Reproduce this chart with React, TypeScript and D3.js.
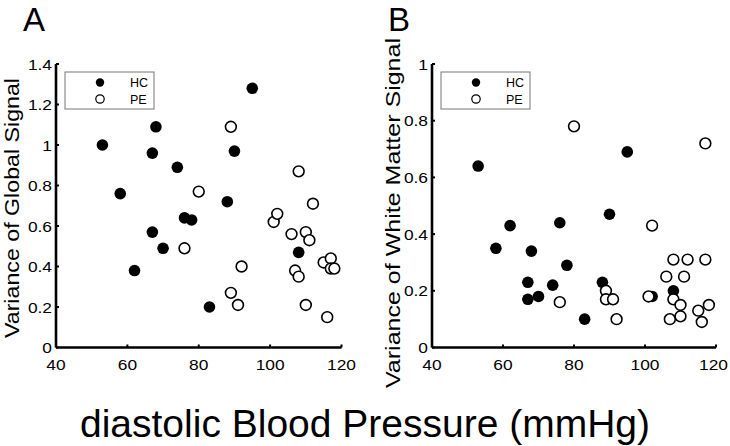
import React from "react";
import * as d3 from "d3";

// Panel A: Variance of Global Signal
const hcA_x = [53, 58, 62, 67, 67, 68, 70, 74, 76, 78, 83, 88, 90, 95, 108];
const hcA_y = [1.0, 0.76, 0.38, 0.96, 0.57, 1.09, 0.49, 0.89, 0.64, 0.63, 0.2, 0.72, 0.97, 1.28, 0.47];
const peA_x = [76, 80, 89, 89, 91, 92, 101, 102, 106, 107, 108, 108, 110, 110, 111, 112, 115, 116, 117, 117, 118];
const peA_y = [0.49, 0.77, 1.09, 0.27, 0.21, 0.4, 0.62, 0.66, 0.56, 0.38, 0.87, 0.35, 0.57, 0.21, 0.53, 0.71, 0.42, 0.15, 0.44, 0.39, 0.39];

// Panel B: Variance of White Matter Signal
const hcB_x = [53, 58, 62, 67, 67, 68, 70, 74, 76, 78, 83, 88, 90, 95, 102, 108];
const hcB_y = [0.64, 0.35, 0.43, 0.23, 0.17, 0.34, 0.18, 0.22, 0.44, 0.29, 0.1, 0.23, 0.47, 0.69, 0.18, 0.2];
const peB_x = [76, 80, 89, 89, 91, 92, 101, 102, 106, 107, 108, 108, 110, 110, 111, 112, 115, 116, 117, 117, 118];
const peB_y = [0.16, 0.78, 0.2, 0.17, 0.17, 0.1, 0.18, 0.43, 0.25, 0.1, 0.17, 0.31, 0.15, 0.11, 0.25, 0.31, 0.13, 0.09, 0.72, 0.31, 0.15];

const xTicks = [40, 60, 80, 100, 120];
const yTicksA = [0, 0.2, 0.4, 0.6, 0.8, 1, 1.2, 1.4];
const yTicksB = [0, 0.2, 0.4, 0.6, 0.8, 1];
const groups = ["HC", "PE"];

const FONT = "Arial, 'Liberation Sans', sans-serif";
const TICK_FS = 15.5;
const TICK_SX = 1.12;

type PanelProps = {
  letter: string;
  yLabel: string;
  x0: number;
  x1: number;
  yMax: number;
  yTicks: number[];
  hcX: number[];
  hcY: number[];
  peX: number[];
  peY: number[];
  labelX: number;
  labelY: number;
  labelLen: number;
  letterX: number;
};

function Panel(p: PanelProps) {
  const top = 64;
  const bottom = 347.5;
  const x = d3.scaleLinear().domain([40, 120]).range([p.x0, p.x1]);
  const y = d3.scaleLinear().domain([0, p.yMax]).range([bottom, top]);
  const fmt = (v: number) => String(+v.toFixed(1));
  const r = 5.8;
  const legX = p.x0 + 9;
  return (
    <g>
      <text x={p.letterX} y={31} fontSize={33} fontFamily={FONT}>{p.letter}</text>
      <text
        transform={`translate(${p.labelX},${p.labelY}) rotate(-90)`}
        textAnchor="middle"
        fontSize={21}
        fontFamily={FONT}
        textLength={p.labelLen}
        lengthAdjust="spacingAndGlyphs"
      >
        {p.yLabel}
      </text>
      {/* HC points first, PE on top */}
      {p.hcX.map((v, i) => (
        <circle key={"h" + i} cx={x(v)} cy={y(p.hcY[i])} r={r} fill="#000" />
      ))}
      {p.peX.map((v, i) => (
        <circle key={"p" + i} cx={x(v)} cy={y(p.peY[i])} r={r - 0.4} fill="#fff" stroke="#000" strokeWidth={1.6} />
      ))}
      {/* axes */}
      <line x1={p.x0} x2={p.x0} y1={top} y2={bottom} stroke="#000" strokeWidth={2.6} />
      <line x1={p.x0} x2={p.x1} y1={bottom} y2={bottom} stroke="#000" strokeWidth={2.6} />
      {p.yTicks.map((t) => (
        <g key={"yt" + t}>
          <line x1={p.x0} x2={p.x0 + 3} y1={y(t)} y2={y(t)} stroke="#000" strokeWidth={2} />
          <text
            transform={`translate(${p.x0 - 4},${y(t) + 5.5}) scale(${TICK_SX},1)`}
            textAnchor="end"
            fontSize={TICK_FS}
            fontFamily={FONT}
          >
            {fmt(t)}
          </text>
        </g>
      ))}
      {xTicks.map((t) => {
        const half = (String(t).length * 0.556 * TICK_FS * TICK_SX) / 2;
        const cx = Math.min(x(t), 728 - half);
        return (
          <g key={"xt" + t}>
            <line x1={x(t)} x2={x(t)} y1={bottom} y2={bottom - 3} stroke="#000" strokeWidth={2} />
            <text
              transform={`translate(${cx},${369.5}) scale(${TICK_SX},1)`}
              textAnchor="middle"
              fontSize={TICK_FS}
              fontFamily={FONT}
            >
              {t}
            </text>
          </g>
        );
      })}
      {/* legend */}
      <rect x={legX} y={72} width={89} height={37} fill="#fff" stroke="#777" strokeWidth={1} />
      {groups.map((g, i) => (
        <g key={g}>
          <circle
            cx={legX + 35}
            cy={82.5 + i * 16.5}
            r={4.2}
            fill={i === 0 ? "#000" : "#fff"}
            stroke="#000"
            strokeWidth={i === 0 ? 0 : 1.2}
          />
          <text x={legX + 65} y={82.5 + i * 16.5 + 4.5} fontSize={12.5} fontFamily={FONT}>{g}</text>
        </g>
      ))}
    </g>
  );
}

export default function App() {
  return (
    <svg width={730} height={446} style={{ position: "absolute", left: 0, top: 0, background: "#fff" }}>
      <rect width={730} height={446} fill="#fff" />
      <Panel
        letter="A"
        yLabel="Variance of Global Signal"
        x0={56}
        x1={341.5}
        yMax={1.4}
        yTicks={yTicksA}
        hcX={hcA_x}
        hcY={hcA_y}
        peX={peA_x}
        peY={peA_y}
        labelX={19}
        labelY={208}
        labelLen={260}
        letterX={23}
      />
      <Panel
        letter="B"
        yLabel="Variance of White Matter Signal"
        x0={432}
        x1={716}
        yMax={1}
        yTicks={yTicksB}
        hcX={hcB_x}
        hcY={hcB_y}
        peX={peB_x}
        peY={peB_y}
        labelX={400}
        labelY={213}
        labelLen={350}
        letterX={388}
      />
      <text x={365} y={437} textAnchor="middle" fontSize={39} fontFamily={FONT}>
        diastolic Blood Pressure (mmHg)
      </text>
    </svg>
  );
}
